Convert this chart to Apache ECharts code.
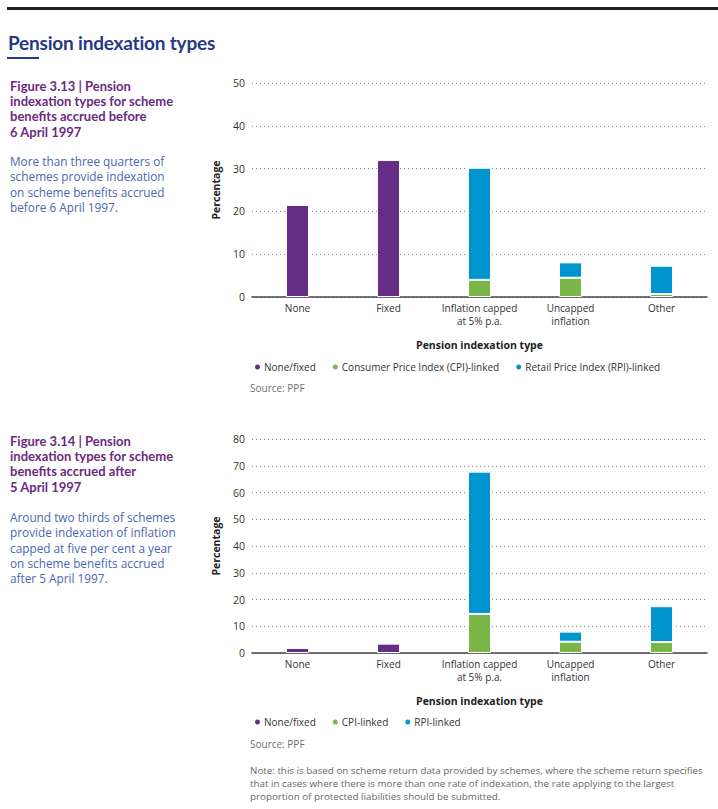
<!DOCTYPE html>
<html>
<head>
<meta charset="utf-8">
<script src="https://cdn.jsdelivr.net/npm/echarts@6/dist/echarts.min.js"></script>
<style>
  html, body { margin:0; padding:0; background:#fff; width:718px; height:809px; overflow:hidden; }
  body { position:relative; font-family:"Open Sans", sans-serif; }
  .abs { position:absolute; }
  .rule { left:7px; top:7px; width:711px; height:3px; background:#222; }
  .title { left:8px; top:31px; font-family:Lato, "Open Sans", sans-serif; font-weight:700; font-size:19px; color:#243a84; letter-spacing:-0.2px; }
  .uline { left:7px; top:57px; width:32px; height:2px; background:#243a84; }
  .fig { left:10px; font-family:Lato, "Open Sans", sans-serif; font-weight:700; font-size:13px; line-height:15.2px; color:#6b2a80; white-space:nowrap; }
  .desc { left:10px; font-family:"Open Sans", sans-serif; font-size:11.8px; line-height:15.3px; color:#4a67b0; white-space:nowrap; }
  .src { left:250px; font-size:10px; color:#6d6d6d; }
  .note { left:250px; top:764px; font-size:9.8px; line-height:13px; color:#666; white-space:nowrap; }
  .chart { left:200px; width:518px; }
</style>
</head>
<body>
<div class="abs rule"></div>
<div class="abs title">Pension indexation types</div>
<div class="abs uline"></div>

<div class="abs fig" style="top:79px">Figure 3.13 | Pension<br>indexation types for scheme<br>benefits accrued before<br>6 April 1997</div>
<div class="abs desc" style="top:154px">More than three quarters of<br>schemes provide indexation<br>on scheme benefits accrued<br>before 6 April 1997.</div>

<div class="abs fig" style="top:434px">Figure 3.14 | Pension<br>indexation types for scheme<br>benefits accrued after<br>5 April 1997</div>
<div class="abs desc" style="top:510px">Around two thirds of schemes<br>provide indexation of inflation<br>capped at five per cent a year<br>on scheme benefits accrued<br>after 5 April 1997.</div>

<div id="c1" class="abs chart" style="top:70px;height:310px"></div>
<div class="abs src" style="top:381px">Source: PPF</div>
<div id="c2" class="abs chart" style="top:425px;height:310px"></div>
<div class="abs src" style="top:737px">Source: PPF</div>
<div class="abs note">Note: this is based on scheme return data provided by schemes, where the scheme return specifies<br>that in cases where there is more than one rate of indexation, the rate applying to the largest<br>proportion of protected liabilities should be submitted.</div>

<script>
const categories = ["None", "Fixed", "Inflation capped\nat 5% p.a.", "Uncapped\ninflation", "Other"];

// Figure 3.13 (before 6 April 1997)
const fig1NoneFixed = [21.5, 32.0, null, null, null];
const fig1CPI = [null, null, 4.0, 4.5, 0.7];
const fig1RPI = [null, null, 26.2, 3.6, 6.6];
const fig1Ticks = { min: 0, max: 50, interval: 10 };
const fig1Legend = ["None/fixed", "Consumer Price Index (CPI)-linked", "Retail Price Index (RPI)-linked"];

// Figure 3.14 (after 5 April 1997)
const fig2NoneFixed = [1.9, 3.5, null, null, null];
const fig2CPI = [null, null, 14.6, 4.2, 4.1];
const fig2RPI = [null, null, 53.2, 3.8, 13.4];
const fig2Ticks = { min: 0, max: 80, interval: 10 };
const fig2Legend = ["None/fixed", "CPI-linked", "RPI-linked"];

const colors = ["#662d86", "#7ab648", "#0095cf"];

function makeOption(names, nf, cpi, rpi, ticks, gridTop) {
  const mk = (name, data, color) => ({
    name, type: "bar", stack: "s", data, barWidth: 23,
    itemStyle: { color, borderColor: "#ffffff", borderWidth: 1 },
    emphasis: { disabled: true }
  });
  return {
    animation: false,
    textStyle: { fontFamily: "Open Sans" },
    grid: { left: 52, right: 11, top: gridTop, height: 214 },
    legend: {
      data: names.map((n, i) => ({ name: n, icon: "circle", itemStyle: { color: colors[i] } })),
      left: 48, top: 287, itemWidth: 7, itemHeight: 7, itemGap: 15,
      textStyle: { fontSize: 10, color: "#333", padding: [0, 0, 0, -2] }
    },
    xAxis: {
      type: "category", data: categories,
      name: "Pension indexation type", nameLocation: "middle", nameGap: 42,
      nameTextStyle: { fontWeight: "bold", fontSize: 10.5, color: "#222" },
      axisLine: { lineStyle: { color: "#444", width: 1.5 } },
      axisTick: { show: false },
      axisLabel: { interval: 0, fontSize: 10, color: "#333", lineHeight: 13, margin: 4 }
    },
    yAxis: {
      type: "value", min: ticks.min, max: ticks.max, interval: ticks.interval,
      name: "Percentage", nameLocation: "middle", nameGap: 31, nameRotate: 90,
      nameTextStyle: { fontWeight: "bold", fontSize: 10.5, color: "#222" },
      axisLabel: { fontSize: 10.5, color: "#333", margin: 7 },
      axisLine: { show: false }, axisTick: { show: false },
      splitLine: { lineStyle: { color: "#888", type: [1, 3], width: 1 } }
    },
    series: [mk(names[0], nf, colors[0]), mk(names[1], cpi, colors[1]), mk(names[2], rpi, colors[2])]
  };
}

const c1 = echarts.init(document.getElementById("c1"), null, { renderer: "svg" });
c1.setOption(makeOption(fig1Legend, fig1NoneFixed, fig1CPI, fig1RPI, fig1Ticks, 13));
const c2 = echarts.init(document.getElementById("c2"), null, { renderer: "svg" });
c2.setOption(makeOption(fig2Legend, fig2NoneFixed, fig2CPI, fig2RPI, fig2Ticks, 14));
</script>
</body>
</html>
